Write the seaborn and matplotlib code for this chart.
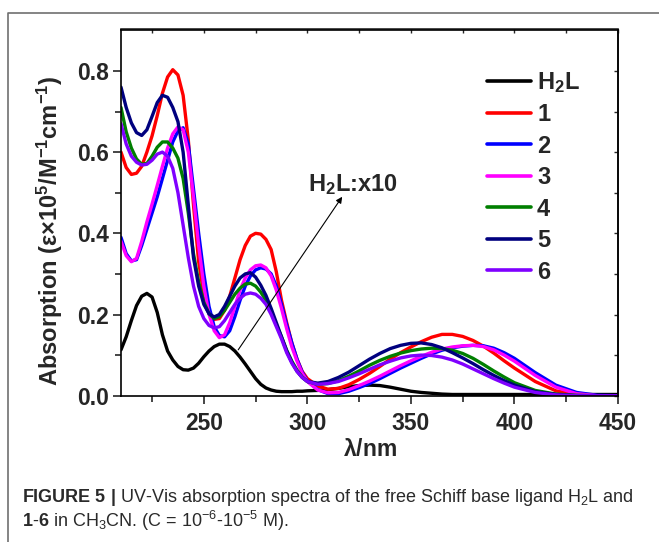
import numpy as np
import pandas as pd
import matplotlib
matplotlib.use("Agg")
import matplotlib.pyplot as plt
import seaborn as sns
from matplotlib.lines import Line2D

# ---------------- data ----------------
wavelength = [210, 212.5, 215, 217.5, 220, 222.5, 225, 227.5, 230, 232.5, 235, 237.5, 240, 242.5,
              245, 247.5, 250, 252.5, 255, 257.5, 260, 262.5, 265, 267.5, 270, 272.5, 275, 277.5,
              280, 282.5, 285, 287.5, 290, 292.5, 295, 297.5, 300,
              305, 310, 315, 320, 325, 330, 335, 340, 345, 350, 355, 360, 365, 370, 375, 380, 385,
              390, 395, 400, 410, 420, 430, 440, 450]

h2l = [0.113, 0.145, 0.185, 0.222, 0.245, 0.252, 0.243, 0.205, 0.150, 0.110, 0.088, 0.072, 0.064, 0.063,
       0.068, 0.080, 0.096, 0.110, 0.121, 0.127, 0.127, 0.121, 0.110, 0.095, 0.078, 0.060, 0.042, 0.028,
       0.019, 0.014, 0.011, 0.010, 0.010, 0.010, 0.011, 0.011, 0.012,
       0.013, 0.015, 0.018, 0.022, 0.025, 0.026, 0.025, 0.021, 0.016, 0.011, 0.008, 0.006, 0.004, 0.003,
       0.003, 0.003, 0.003, 0.003, 0.003, 0.003, 0.003, 0.003, 0.003, 0.003, 0.003]

c1 = [0.600, 0.562, 0.545, 0.548, 0.565, 0.600, 0.640, 0.690, 0.745, 0.785, 0.803, 0.790, 0.740, 0.630,
      0.470, 0.330, 0.250, 0.205, 0.188, 0.190, 0.210, 0.245, 0.290, 0.335, 0.370, 0.393, 0.400, 0.398,
      0.385, 0.360, 0.305, 0.235, 0.180, 0.130, 0.090, 0.060, 0.042,
      0.024, 0.016, 0.018, 0.027, 0.040, 0.055, 0.072, 0.090, 0.106, 0.120, 0.133, 0.144, 0.151, 0.151,
      0.146, 0.136, 0.122, 0.105, 0.086, 0.068, 0.035, 0.012, 0.003, 0.000, 0.000]

c2 = [0.390, 0.350, 0.332, 0.335, 0.370, 0.410, 0.450, 0.490, 0.535, 0.580, 0.625, 0.652, 0.660, 0.620,
      0.510, 0.400, 0.300, 0.220, 0.170, 0.148, 0.145, 0.160, 0.195, 0.235, 0.270, 0.295, 0.310, 0.315,
      0.312, 0.300, 0.270, 0.225, 0.175, 0.130, 0.090, 0.058, 0.036,
      0.015, 0.005, 0.005, 0.011, 0.020, 0.030, 0.042, 0.055, 0.068, 0.080, 0.092, 0.103, 0.112, 0.118,
      0.122, 0.124, 0.123, 0.117, 0.106, 0.092, 0.057, 0.026, 0.008, 0.001, 0.000]

c3 = [0.380, 0.345, 0.330, 0.338, 0.380, 0.428, 0.472, 0.518, 0.565, 0.610, 0.645, 0.662, 0.655, 0.600,
      0.490, 0.370, 0.270, 0.200, 0.160, 0.143, 0.150, 0.180, 0.220, 0.260, 0.290, 0.310, 0.320, 0.322,
      0.315, 0.295, 0.260, 0.215, 0.165, 0.120, 0.085, 0.055, 0.035,
      0.014, 0.007, 0.008, 0.015, 0.025, 0.036, 0.048, 0.061, 0.074, 0.086, 0.097, 0.107, 0.115, 0.120,
      0.123, 0.124, 0.121, 0.113, 0.100, 0.085, 0.050, 0.021, 0.005, 0.000, 0.000]

c4 = [0.710, 0.650, 0.610, 0.583, 0.570, 0.572, 0.590, 0.612, 0.625, 0.625, 0.610, 0.585, 0.535, 0.450,
      0.350, 0.280, 0.230, 0.202, 0.190, 0.195, 0.210, 0.230, 0.250, 0.265, 0.275, 0.277, 0.270, 0.255,
      0.235, 0.205, 0.175, 0.145, 0.112, 0.085, 0.063, 0.046, 0.035,
      0.028, 0.030, 0.037, 0.048, 0.061, 0.075, 0.087, 0.097, 0.105, 0.111, 0.115, 0.117, 0.116, 0.112,
      0.104, 0.092, 0.077, 0.061, 0.046, 0.032, 0.013, 0.004, 0.001, 0.000, 0.000]

c5 = [0.760, 0.710, 0.672, 0.648, 0.641, 0.655, 0.688, 0.722, 0.740, 0.735, 0.710, 0.675, 0.600, 0.470,
      0.340, 0.270, 0.225, 0.202, 0.194, 0.200, 0.220, 0.245, 0.270, 0.290, 0.300, 0.303, 0.292, 0.272,
      0.247, 0.215, 0.180, 0.145, 0.110, 0.082, 0.060, 0.045, 0.035,
      0.031, 0.035, 0.045, 0.058, 0.074, 0.090, 0.104, 0.116, 0.124, 0.129, 0.130, 0.126, 0.118, 0.106,
      0.093, 0.079, 0.064, 0.050, 0.037, 0.026, 0.010, 0.003, 0.000, 0.000, 0.000]

c6 = [0.670, 0.620, 0.590, 0.575, 0.568, 0.570, 0.580, 0.595, 0.600, 0.590, 0.560, 0.500, 0.420, 0.340,
      0.270, 0.220, 0.190, 0.173, 0.167, 0.170, 0.185, 0.205, 0.225, 0.240, 0.250, 0.253, 0.250, 0.240,
      0.225, 0.200, 0.170, 0.140, 0.106, 0.080, 0.060, 0.045, 0.035,
      0.028, 0.030, 0.035, 0.044, 0.054, 0.065, 0.076, 0.085, 0.093, 0.098, 0.100, 0.099, 0.095, 0.088,
      0.078, 0.066, 0.054, 0.042, 0.031, 0.021, 0.008, 0.002, 0.000, 0.000, 0.000]

series_names = ["H2L", "1", "2", "3", "4", "5", "6"]
series_values = [h2l, c1, c2, c3, c4, c5, c6]
legend_labels = [r"H$_\mathbf{2}$L", "1", "2", "3", "4", "5", "6"]
colors = ["#000000", "#ff0000", "#0000ff", "#ff00ff", "#007f00", "#00007f", "#7f00ff"]

x_ticks = [250, 300, 350, 400, 450]
x_minor = [225, 275, 325, 375, 425]
y_ticks = [0.0, 0.2, 0.4, 0.6, 0.8]
y_minor = [0.1, 0.3, 0.5, 0.7]

# ---------------- style ----------------
sns.set_theme(style="ticks")
plt.rcParams["font.family"] = ["Liberation Sans", "DejaVu Sans"]
plt.rcParams["mathtext.fontset"] = "custom"
plt.rcParams["mathtext.rm"] = "Liberation Sans"
plt.rcParams["mathtext.it"] = "Liberation Sans:italic"
plt.rcParams["mathtext.bf"] = "Liberation Sans:bold"

rows = []
for name, vals in zip(series_names, series_values):
    for w, v in zip(wavelength, vals):
        rows.append({"wavelength": w, "absorption": v, "series": name})
df = pd.DataFrame(rows)

fig = plt.figure(figsize=(6.59, 5.42), dpi=100)
ax = fig.add_axes([121 / 659, 1 - 395.7 / 542, (618 - 121) / 659, (395.7 - 29.5) / 542])

sns.lineplot(data=df, x="wavelength", y="absorption", hue="series", hue_order=series_names,
             palette=dict(zip(series_names, colors)), sort=False, linewidth=2.4, ax=ax,
             legend=False)

ax.set_xlim(210, 450)
ax.set_ylim(0, 0.902)
ax.set_xticks(x_ticks)
ax.set_yticks(y_ticks)
ax.set_xticks(x_minor, minor=True)
ax.set_yticks(y_minor, minor=True)
ax.set_xticklabels([str(t) for t in x_ticks], fontsize=16.5, fontweight="bold")
ax.set_yticklabels([f"{t:.1f}" for t in y_ticks], fontsize=16.5, fontweight="bold")
ax.tick_params(axis="x", which="major", direction="out", length=6, width=1.2, pad=6)
ax.tick_params(axis="y", which="major", direction="out", length=6, width=1.2, pad=3)
ax.tick_params(which="minor", direction="out", length=4, width=1.2)
ax.tick_params(which="both", top=False, right=False)
for s in ax.spines.values():
    s.set_linewidth(1.2)
    s.set_color("black")

# small inward ticks on top and right edges
secx = ax.secondary_xaxis("top")
secx.set_xticks(x_ticks + x_minor)
secx.tick_params(direction="in", length=3, width=1.0, labeltop=False)
secx.spines["top"].set_linewidth(1.2)
secy = ax.secondary_yaxis("right")
secy.set_yticks(y_ticks + y_minor)
secy.tick_params(direction="in", length=3, width=1.0, labelright=False)
secy.spines["right"].set_linewidth(1.2)

ax.set_xlabel(r"$\mathbf{\lambda}$/nm", fontsize=16.5, fontweight="bold")
ax.xaxis.set_label_coords(0.5, -0.115)
ax.set_ylabel("Absorption (ε×10" + r"$^{\mathbf{5}}$/M$^{\mathbf{-1}}$cm$^{\mathbf{-1}}$)",
              fontsize=17, fontweight="bold")
ax.yaxis.set_label_coords(-0.112, 0.45)

handles = [Line2D([0], [0], color=c, lw=2.6) for c in colors]
leg = ax.legend(handles, legend_labels, loc="upper left", bbox_to_anchor=(0.737, 0.89),
                frameon=False, handlelength=1.86, handletextpad=0.25, labelspacing=0.36,
                borderpad=0, borderaxespad=0, prop={"size": 17, "weight": "bold"})

ax.annotate("", xy=(316.8, 0.49), xytext=(266.6, 0.113),
            arrowprops=dict(arrowstyle="-|>", lw=0.8, color="black", mutation_scale=9,
                            shrinkA=0, shrinkB=0))
ax.text(300.5, 0.52, r"H$_\mathbf{2}$L:x10", fontsize=17, fontweight="bold", ha="left", va="center")

# outer frame (top and left edges)
fig.add_artist(Line2D([7.7 / 659, 7.7 / 659, 1.0], [0.0, 1 - 12.7 / 542, 1 - 12.7 / 542],
                      transform=fig.transFigure, color="#707070", lw=1.2))

cap_color = "#2a2a2a"
fig.text(22 / 659, 1 - 498 / 542,
         r"$\mathbf{FIGURE\ 5\ |}$ UV-Vis absorption spectra of the free Schiff base ligand H$_2$L and",
         fontsize=13, color=cap_color, ha="left", va="center")
fig.text(22 / 659, 1 - 521 / 542,
         r"$\mathbf{1}$-$\mathbf{6}$ in CH$_3$CN. (C = 10$^{-6}$-10$^{-5}$ M).",
         fontsize=13, color=cap_color, ha="left", va="center")

fig.savefig("out.png", dpi=100)
